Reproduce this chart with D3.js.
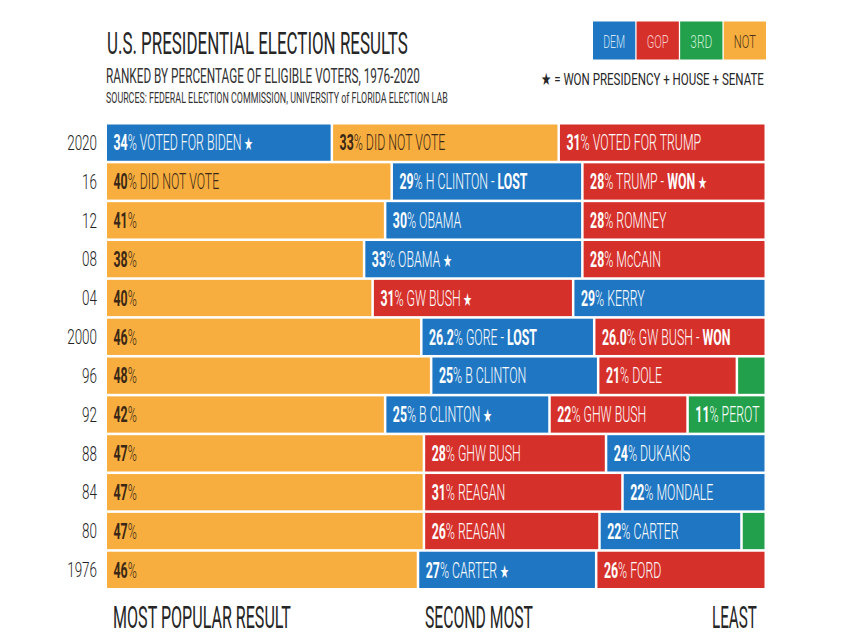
<!DOCTYPE html>
<html>
<head>
<meta charset="utf-8">
<script src="https://cdn.jsdelivr.net/npm/d3@7/dist/d3.min.js"></script>
<style>
  html, body { margin: 0; padding: 0; background: #ffffff; }
  svg { display: block; }
  text { font-family: Roboto, "Noto Sans", sans-serif; }
</style>
</head>
<body>
<svg id="chart" width="850" height="641"></svg>
<script>
// ---------------- DATA ----------------
const years = ["2020", "16", "12", "08", "04", "2000", "96", "92", "88", "84", "80", "1976"];

// party of each segment, ordered most popular -> least (left to right)
const parties = [
  ["DEM", "NOT", "GOP"],
  ["NOT", "DEM", "GOP"],
  ["NOT", "DEM", "GOP"],
  ["NOT", "DEM", "GOP"],
  ["NOT", "GOP", "DEM"],
  ["NOT", "DEM", "GOP"],
  ["NOT", "DEM", "GOP", "3RD"],
  ["NOT", "DEM", "GOP", "3RD"],
  ["NOT", "GOP", "DEM"],
  ["NOT", "GOP", "DEM"],
  ["NOT", "GOP", "DEM", "3RD"],
  ["NOT", "DEM", "GOP"]
];

// drawn share of eligible voters (% of bar width; "NOT" absorbs minor candidates)
const shares = [
  [34.2, 34.5, 31.3],
  [43.3, 29.0, 27.7],
  [42.3, 30.0, 27.7],
  [39.1, 33.2, 27.7],
  [40.4, 30.5, 29.1],
  [47.8, 26.3, 25.9],
  [49.3, 25.4, 21.1, 4.2],
  [42.3, 25.0, 21.0, 11.7],
  [48.2, 27.7, 24.1],
  [48.2, 30.2, 21.6],
  [48.2, 26.7, 21.6, 3.5],
  [47.3, 27.1, 25.6]
];

// printed percentage labels
const pctLabels = [
  ["34", "33", "31"],
  ["40", "29", "28"],
  ["41", "30", "28"],
  ["38", "33", "28"],
  ["40", "31", "29"],
  ["46", "26.2", "26.0"],
  ["48", "25", "21", ""],
  ["42", "25", "22", "11"],
  ["47", "28", "24"],
  ["47", "31", "22"],
  ["47", "26", "22", ""],
  ["46", "27", "26"]
];

const names = [
  ["VOTED FOR BIDEN", "DID NOT VOTE", "VOTED FOR TRUMP"],
  ["DID NOT VOTE", "H CLINTON", "TRUMP"],
  ["", "OBAMA", "ROMNEY"],
  ["", "OBAMA", "McCAIN"],
  ["", "GW BUSH", "KERRY"],
  ["", "GORE", "GW BUSH"],
  ["", "B CLINTON", "DOLE", ""],
  ["", "B CLINTON", "GHW BUSH", "PEROT"],
  ["", "GHW BUSH", "DUKAKIS"],
  ["", "REAGAN", "MONDALE"],
  ["", "REAGAN", "CARTER", ""],
  ["", "CARTER", "FORD"]
];

const outcomes = [
  ["", "", ""],
  ["", "LOST", "WON"],
  ["", "", ""],
  ["", "", ""],
  ["", "", ""],
  ["", "LOST", "WON"],
  ["", "", "", ""],
  ["", "", "", ""],
  ["", "", ""],
  ["", "", ""],
  ["", "", "", ""],
  ["", "", ""]
];

// won presidency + house + senate
const stars = [
  [true, false, false],
  [false, false, true],
  [false, false, false],
  [false, true, false],
  [false, true, false],
  [false, false, false],
  [false, false, false, false],
  [false, true, false, false],
  [false, false, false],
  [false, false, false],
  [false, false, false, false],
  [false, true, false]
];

const legendKeys = ["DEM", "GOP", "3RD", "NOT"];
const footLabels = ["MOST POPULAR RESULT", "SECOND MOST", "LEAST"];

// ---------------- STYLE ----------------
const fill = { DEM: "#1f77c3", GOP: "#d6302b", "3RD": "#22a04b", NOT: "#f8ae3e" };
const ink = { DEM: "#ffffff", GOP: "#ffffff", "3RD": "#ffffff", NOT: "#3a2716" };
const legendInk = { DEM: "#cfe5f7", GOP: "#f8cdc9", "3RD": "#c9efd4", NOT: "#4a3217" };
const dark = "#262626";

const svg = d3.select("#chart");

// text squeezed horizontally to a target width (condensed look)
function fitText(parent, str, x0, y0, size, width, opts = {}) {
  const t = parent.append("text")
    .attr("font-size", size)
    .attr("font-weight", opts.weight || 400)
    .attr("fill", opts.fill || dark)
    .text(str);
  const L = t.node().getComputedTextLength();
  const s = width / L;
  const xs = opts.center ? x0 - width / 2 : x0;
  t.attr("transform", `translate(${xs},${y0}) scale(${s},1)`);
  return t;
}

const x = d3.scaleLinear().domain([0, 100]).range([107, 764.5]);
const y = d3.scaleBand().domain(years).range([124.5, 588]).paddingInner(0.066).paddingOuter(0);

// ---------------- HEADER ----------------
fitText(svg, "U.S. PRESIDENTIAL ELECTION RESULTS", 107, 53.5, 32, 301);
fitText(svg, "RANKED BY PERCENTAGE OF ELIGIBLE VOTERS, 1976-2020", 106, 82.5, 20, 314, { fill: "#333" });
fitText(svg, "SOURCES: FEDERAL ELECTION COMMISSION, UNIVERSITY of FLORIDA ELECTION LAB", 106, 102.5, 15.5, 342, { fill: "#333" });

// legend
const lx = d3.scaleBand().domain(legendKeys).range([593, 766]).paddingInner(0.03);
const lg = svg.append("g");
legendKeys.forEach(k => {
  lg.append("rect")
    .attr("x", lx(k)).attr("y", 21.5)
    .attr("width", lx.bandwidth()).attr("height", 38)
    .attr("fill", fill[k]);
  fitText(lg, k, lx(k) + lx.bandwidth() / 2, 47.5, 19, 22, { fill: legendInk[k], weight: 300, center: true });
});

fitText(svg, "★ = WON PRESIDENCY + HOUSE + SENATE", 541, 84.5, 17, 223);

// ---------------- BARS ----------------
const gap = 1.25;
years.forEach((yr, r) => {
  const row = svg.append("g");
  const cum = d3.cumsum(shares[r]);
  const n = shares[r].length;
  const segs = shares[r].map((v, i) => ({
    party: parties[r][i],
    x0: i === 0 ? 0 : cum[i - 1],
    x1: i === n - 1 ? 100 : cum[i],
    pct: pctLabels[r][i], name: names[r][i], out: outcomes[r][i], star: stars[r][i],
    first: i === 0, last: i === n - 1
  }));

  row.selectAll("rect").data(segs).join("rect")
    .attr("x", d => x(d.x0) + (d.first ? 0 : gap))
    .attr("y", y(yr))
    .attr("width", d => x(d.x1) - x(d.x0) - (d.first ? 0 : gap) - (d.last ? 0 : gap))
    .attr("height", y.bandwidth())
    .attr("fill", d => fill[d.party]);

  const base = y(yr) + y.bandwidth() / 2 + 7.8;
  const lbl = row.selectAll("text.lbl").data(segs.filter(d => d.pct !== "")).join("text")
    .attr("class", "lbl")
    .attr("transform", d => `translate(${x(d.x0) + (d.first ? 0 : gap) + 6.5},${base}) scale(0.56,1)`)
    .attr("font-size", 22)
    .attr("fill", d => ink[d.party]);
  lbl.each(function(d) {
    const t = d3.select(this);
    t.append("tspan").attr("font-weight", 700).text(d.pct);
    t.append("tspan").attr("font-weight", 300).text("%");
    if (d.name) t.append("tspan").attr("font-weight", 300).text(" " + d.name);
    if (d.out) {
      t.append("tspan").attr("font-weight", 300).text(" - ");
      t.append("tspan").attr("font-weight", 700).text(d.out);
    }
    if (d.star) t.append("tspan").attr("font-weight", 400).attr("font-size", 18).text(" ★");
  });

  // year label
  svg.append("text")
    .attr("transform", `translate(97,${base - 0.5}) scale(0.64,1)`)
    .attr("text-anchor", "end").attr("font-size", 21).attr("font-weight", 300).attr("fill", "#222")
    .text(yr);
});

// ---------------- FOOTER ----------------
fitText(svg, footLabels[0], 113, 628, 32, 178);
fitText(svg, footLabels[1], 425, 628, 32, 108);
fitText(svg, footLabels[2], 712, 628, 32, 45);
</script>
</body>
</html>
